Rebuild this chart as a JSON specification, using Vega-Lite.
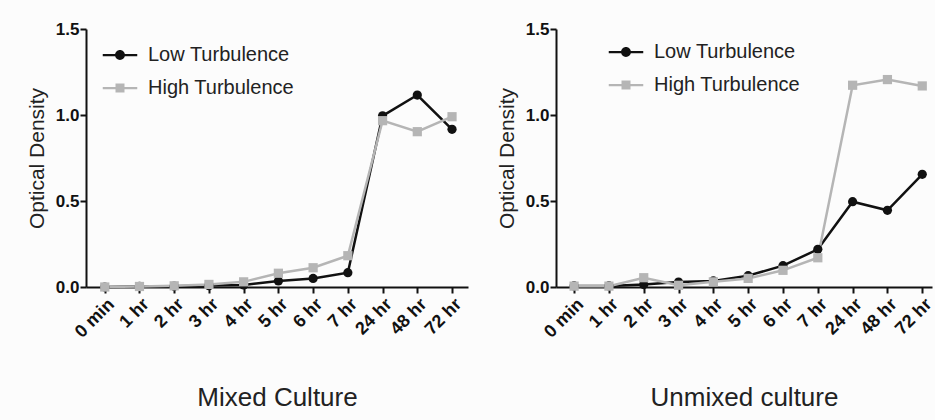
{
  "$schema": "https://vega.github.io/schema/vega-lite/v6.json",
  "background": "#fcfcfc",
  "padding": {"left": 26, "top": 20, "right": 0, "bottom": 10},
  "spacing": 28,
  "config": {
    "view": {"stroke": null},
    "font": "Liberation Sans",
    "axis": {
      "grid": false,
      "domainColor": "#111",
      "domainWidth": 2,
      "tickColor": "#111",
      "tickWidth": 2,
      "tickSize": 6,
      "labelFont": "Liberation Sans",
      "labelFontWeight": "bold",
      "labelFontSize": 17,
      "labelColor": "#111",
      "titleFont": "Liberation Sans",
      "titleFontWeight": "normal",
      "titleColor": "#222"
    }
  },
  "datasets": {
    "od": [
      {"panel": "Mixed", "time": "0 min", "series": "Low Turbulence", "od": 0.0},
      {"panel": "Mixed", "time": "1 hr", "series": "Low Turbulence", "od": 0.003},
      {"panel": "Mixed", "time": "2 hr", "series": "Low Turbulence", "od": 0.005},
      {"panel": "Mixed", "time": "3 hr", "series": "Low Turbulence", "od": 0.008},
      {"panel": "Mixed", "time": "4 hr", "series": "Low Turbulence", "od": 0.012},
      {"panel": "Mixed", "time": "5 hr", "series": "Low Turbulence", "od": 0.035},
      {"panel": "Mixed", "time": "6 hr", "series": "Low Turbulence", "od": 0.05},
      {"panel": "Mixed", "time": "7 hr", "series": "Low Turbulence", "od": 0.083},
      {"panel": "Mixed", "time": "24 hr", "series": "Low Turbulence", "od": 0.995},
      {"panel": "Mixed", "time": "48 hr", "series": "Low Turbulence", "od": 1.116},
      {"panel": "Mixed", "time": "72 hr", "series": "Low Turbulence", "od": 0.917},
      {"panel": "Mixed", "time": "0 min", "series": "High Turbulence", "od": 0.0},
      {"panel": "Mixed", "time": "1 hr", "series": "High Turbulence", "od": 0.003},
      {"panel": "Mixed", "time": "2 hr", "series": "High Turbulence", "od": 0.007},
      {"panel": "Mixed", "time": "3 hr", "series": "High Turbulence", "od": 0.015},
      {"panel": "Mixed", "time": "4 hr", "series": "High Turbulence", "od": 0.03},
      {"panel": "Mixed", "time": "5 hr", "series": "High Turbulence", "od": 0.08},
      {"panel": "Mixed", "time": "6 hr", "series": "High Turbulence", "od": 0.112},
      {"panel": "Mixed", "time": "7 hr", "series": "High Turbulence", "od": 0.182},
      {"panel": "Mixed", "time": "24 hr", "series": "High Turbulence", "od": 0.967},
      {"panel": "Mixed", "time": "48 hr", "series": "High Turbulence", "od": 0.903},
      {"panel": "Mixed", "time": "72 hr", "series": "High Turbulence", "od": 0.99},
      {"panel": "Unmixed", "time": "0 min", "series": "Low Turbulence", "od": 0.006},
      {"panel": "Unmixed", "time": "1 hr", "series": "Low Turbulence", "od": 0.006},
      {"panel": "Unmixed", "time": "2 hr", "series": "Low Turbulence", "od": 0.014},
      {"panel": "Unmixed", "time": "3 hr", "series": "Low Turbulence", "od": 0.029},
      {"panel": "Unmixed", "time": "4 hr", "series": "Low Turbulence", "od": 0.035},
      {"panel": "Unmixed", "time": "5 hr", "series": "Low Turbulence", "od": 0.066},
      {"panel": "Unmixed", "time": "6 hr", "series": "Low Turbulence", "od": 0.124},
      {"panel": "Unmixed", "time": "7 hr", "series": "Low Turbulence", "od": 0.219},
      {"panel": "Unmixed", "time": "24 hr", "series": "Low Turbulence", "od": 0.496},
      {"panel": "Unmixed", "time": "48 hr", "series": "Low Turbulence", "od": 0.446},
      {"panel": "Unmixed", "time": "72 hr", "series": "Low Turbulence", "od": 0.655},
      {"panel": "Unmixed", "time": "0 min", "series": "High Turbulence", "od": 0.005},
      {"panel": "Unmixed", "time": "1 hr", "series": "High Turbulence", "od": 0.005},
      {"panel": "Unmixed", "time": "2 hr", "series": "High Turbulence", "od": 0.054},
      {"panel": "Unmixed", "time": "3 hr", "series": "High Turbulence", "od": 0.01},
      {"panel": "Unmixed", "time": "4 hr", "series": "High Turbulence", "od": 0.03},
      {"panel": "Unmixed", "time": "5 hr", "series": "High Turbulence", "od": 0.05},
      {"panel": "Unmixed", "time": "6 hr", "series": "High Turbulence", "od": 0.097},
      {"panel": "Unmixed", "time": "7 hr", "series": "High Turbulence", "od": 0.17},
      {"panel": "Unmixed", "time": "24 hr", "series": "High Turbulence", "od": 1.173},
      {"panel": "Unmixed", "time": "48 hr", "series": "High Turbulence", "od": 1.206},
      {"panel": "Unmixed", "time": "72 hr", "series": "High Turbulence", "od": 1.169}
    ]
  },
  "resolve": {"legend": {"color": "independent", "shape": "independent"}},
  "hconcat": [
    {
      "width": 382,
      "height": 258,
      "data": {"name": "od"},
      "transform": [{"filter": "datum.panel === 'Mixed'"}],
      "encoding": {
        "x": {
          "field": "time", "type": "ordinal", "sort": null,
          "scale": {"type": "point", "padding": 0.5, "align": 0.54},
          "axis": {"title": "Mixed Culture", "labelAngle": -45, "labelFontSize": 18, "titleFontSize": 26, "titlePadding": 44}
        },
        "y": {
          "field": "od", "type": "quantitative",
          "scale": {"domain": [0, 1.5], "nice": false},
          "axis": {"title": "Optical Density", "values": [0, 0.5, 1, 1.5], "format": ".1f", "titleFontSize": 21, "titlePadding": 8, "labelPadding": 1}
        },
        "color": {"field": "series", "type": "nominal", "scale": {"domain": ["High Turbulence", "Low Turbulence"], "range": ["#b5b5b5", "#111111"]},
          "legend": {
            "orient": "none", "legendX": 19, "legendY": 11, "title": null,
            "values": ["Low Turbulence", "High Turbulence"],
            "labelFontSize": 20, "labelFont": "Liberation Sans", "labelColor": "#222",
            "symbolSize": 900, "rowPadding": 8, "labelOffset": 13, "symbolStrokeWidth": 0, "symbolOpacity": 1
          }
        }
      },
      "layer": [
        {"mark": {"type": "line", "strokeWidth": 2.5}},
        {
          "transform": [{"filter": "datum.series === 'Low Turbulence'"}],
          "mark": {"type": "point", "shape": "circle", "filled": true, "size": 85, "opacity": 1}
        },
        {
          "transform": [{"filter": "datum.series === 'High Turbulence'"}],
          "mark": {"type": "point", "shape": "square", "filled": true, "size": 85, "opacity": 1}
        },
        {
          "mark": {"type": "point", "filled": true, "size": 0},
          "encoding": {
            "shape": {"field": "series", "type": "nominal",
              "scale": {"domain": ["High Turbulence", "Low Turbulence"], "range": ["M-1.15,-0.075H1.15V0.075H-1.15ZM-0.3,-0.3H0.3V0.3H-0.3Z", "M-1.15,-0.075H1.15V0.075H-1.15ZM0.33,0A0.33,0.33 0 1,1 -0.33,0A0.33,0.33 0 1,1 0.33,0Z"]},
              "legend": {
                "orient": "none", "legendX": 19, "legendY": 11, "title": null,
                "values": ["Low Turbulence", "High Turbulence"],
                "labelFontSize": 20, "labelFont": "Liberation Sans", "labelColor": "#222",
                "symbolSize": 900, "rowPadding": 8, "labelOffset": 13, "symbolStrokeWidth": 0, "symbolOpacity": 1
              }
            }
          }
        }
      ]
    },
    {
      "width": 376,
      "height": 258,
      "data": {"name": "od"},
      "transform": [{"filter": "datum.panel === 'Unmixed'"}],
      "encoding": {
        "x": {
          "field": "time", "type": "ordinal", "sort": null,
          "scale": {"type": "point", "padding": 0.4, "align": 0.65},
          "axis": {"title": "Unmixed culture", "labelAngle": -45, "labelFontSize": 18, "titleFontSize": 26, "titlePadding": 44}
        },
        "y": {
          "field": "od", "type": "quantitative",
          "scale": {"domain": [0, 1.5], "nice": false},
          "axis": {"title": "Optical Density", "values": [0, 0.5, 1, 1.5], "format": ".1f", "titleFontSize": 21, "titlePadding": 8, "labelPadding": 1}
        },
        "color": {"field": "series", "type": "nominal", "scale": {"domain": ["High Turbulence", "Low Turbulence"], "range": ["#b5b5b5", "#111111"]},
          "legend": {
            "orient": "none", "legendX": 55, "legendY": 8, "title": null,
            "values": ["Low Turbulence", "High Turbulence"],
            "labelFontSize": 20, "labelFont": "Liberation Sans", "labelColor": "#222",
            "symbolSize": 900, "rowPadding": 8, "labelOffset": 13, "symbolStrokeWidth": 0, "symbolOpacity": 1
          }
        }
      },
      "layer": [
        {"mark": {"type": "line", "strokeWidth": 2.5}},
        {
          "transform": [{"filter": "datum.series === 'Low Turbulence'"}],
          "mark": {"type": "point", "shape": "circle", "filled": true, "size": 85, "opacity": 1}
        },
        {
          "transform": [{"filter": "datum.series === 'High Turbulence'"}],
          "mark": {"type": "point", "shape": "square", "filled": true, "size": 85, "opacity": 1}
        },
        {
          "mark": {"type": "point", "filled": true, "size": 0},
          "encoding": {
            "shape": {"field": "series", "type": "nominal",
              "scale": {"domain": ["High Turbulence", "Low Turbulence"], "range": ["M-1.15,-0.075H1.15V0.075H-1.15ZM-0.3,-0.3H0.3V0.3H-0.3Z", "M-1.15,-0.075H1.15V0.075H-1.15ZM0.33,0A0.33,0.33 0 1,1 -0.33,0A0.33,0.33 0 1,1 0.33,0Z"]},
              "legend": {
                "orient": "none", "legendX": 55, "legendY": 8, "title": null,
                "values": ["Low Turbulence", "High Turbulence"],
                "labelFontSize": 20, "labelFont": "Liberation Sans", "labelColor": "#222",
                "symbolSize": 900, "rowPadding": 8, "labelOffset": 13, "symbolStrokeWidth": 0, "symbolOpacity": 1
              }
            }
          }
        }
      ]
    }
  ]
}
